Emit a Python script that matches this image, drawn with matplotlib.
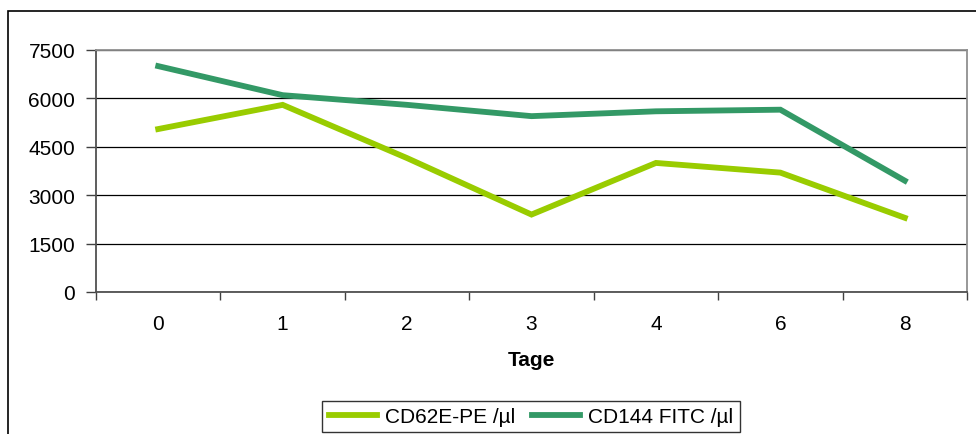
import matplotlib
matplotlib.use("Agg")
import matplotlib.pyplot as plt
from matplotlib.patches import Rectangle

categories = ["0", "1", "2", "3", "4", "6", "8"]
cd62e = [5050, 5800, 4150, 2400, 4000, 3700, 2300]
cd144 = [7000, 6100, 5800, 5450, 5600, 5650, 3450]
yticks = [0, 1500, 3000, 4500, 6000, 7500]

plt.rcParams['font.family'] = ['Liberation Sans', 'DejaVu Sans']
FS = 15

fig = plt.figure(figsize=(9.76, 4.35), dpi=100)
W, H = 976, 435
fig.patches.append(Rectangle((8 / W, -0.1), 1.2, 1 - 12 / H + 0.1, transform=fig.transFigure,
                             fill=False, edgecolor='black', linewidth=1.2))

ax = fig.add_axes([96 / W, 1 - 293 / H, (967 - 96) / W, (293 - 51) / H])
x = list(range(len(categories)))
ax.plot(x, cd62e, color='#99CC00', linewidth=4.2, label='CD62E-PE /µl', solid_joinstyle='miter')
ax.plot(x, cd144, color='#339966', linewidth=4.2, label='CD144 FITC /µl', solid_joinstyle='miter')

ax.set_xlim(-0.5, len(categories) - 0.5)
ax.set_ylim(0, 7500)
ax.set_yticks(yticks)
ax.set_yticklabels([str(v) for v in yticks], fontsize=FS)
ax.set_xticks(x)
ax.set_xticklabels(categories, fontsize=FS)
ax.set_xticks([i - 0.5 for i in range(len(categories) + 1)], minor=True)
ax.tick_params(axis='x', which='major', length=0, pad=16)
ax.tick_params(axis='x', which='minor', length=6, width=1, color='#404040')
ax.tick_params(axis='y', length=7, width=1, color='#404040', pad=8)
ax.yaxis.grid(True, color='black', linewidth=0.9)
ax.set_axisbelow(True)
for s in ['left', 'bottom']:
    ax.spines[s].set_color('#505050')
    ax.spines[s].set_linewidth(1.3)
for s in ['top', 'right']:
    ax.spines[s].set_color('#909090')
    ax.spines[s].set_linewidth(1.3)

ax.set_xlabel('Tage', fontsize=FS, fontweight='bold', labelpad=12)

leg = fig.legend(loc='center', bbox_to_anchor=(531 / W, 1 - 417.5 / H), ncol=2, fontsize=FS,
                 frameon=True, fancybox=False, edgecolor='black', handlelength=2.3,
                 columnspacing=0.8, handletextpad=0.4, borderpad=0.3)
leg.get_frame().set_linewidth(1.0)

fig.savefig('out.png', dpi=100)
